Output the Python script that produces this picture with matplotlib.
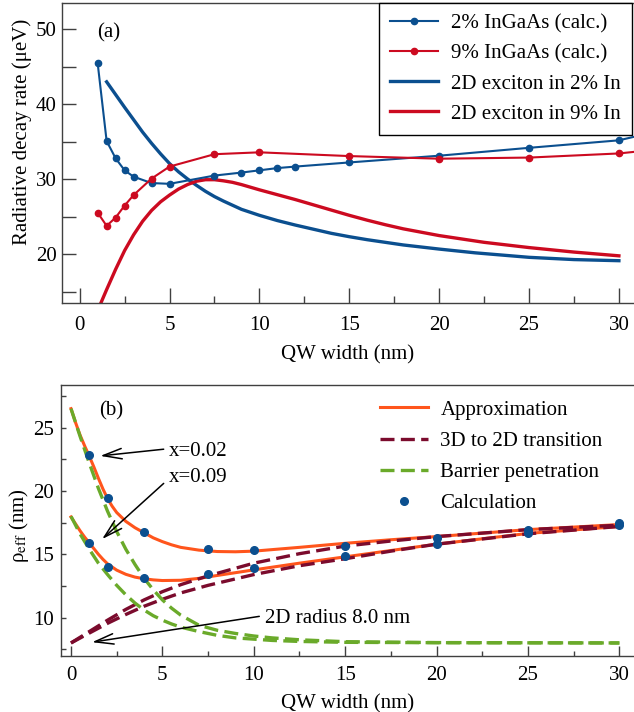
import matplotlib
matplotlib.use("Agg")
import matplotlib.pyplot as plt
from matplotlib.ticker import MultipleLocator, FuncFormatter

plt.rcParams["font.family"] = ["Liberation Serif", "DejaVu Serif"]
plt.rcParams["mathtext.fontset"] = "stix"
plt.rcParams["font.size"] = 15

BLUE = "#0b4f8f"
RED = "#cc0a20"
ORANGE = "#ff551c"
DARKRED = "#7b0b2d"
GREEN = "#6aaa2a"
SPINE = "#404040"

# ---- panel (a): radiative decay rate (ueV) vs QW width (nm)
w_calc_2 = [1, 1.5, 2, 2.5, 3, 4, 5, 7.5, 9, 10, 11, 12, 15, 20, 25, 30, 35]
rate_calc_2 = [45.5, 35.1, 32.8, 31.2, 30.35, 29.5, 29.4, 30.5, 30.9, 31.2, 31.5, 31.7,
               32.25, 33.15, 34.2, 35.2, 38.0]
w_calc_9 = [1, 1.5, 2, 2.5, 3, 4, 5, 7.5, 10, 15, 20, 25, 30, 35]
rate_calc_9 = [25.55, 23.8, 24.9, 26.5, 27.9, 30.1, 31.7, 33.35, 33.6, 33.1, 32.75, 32.9,
               33.45, 34.7]
w_exc_2 = [1.5, 2, 2.5, 3, 3.5, 4, 4.5, 5, 5.5, 6, 6.5, 7, 7.5, 8, 9, 10, 11, 12, 13, 14,
           15, 16, 17, 18, 20, 22, 25, 27.5, 30]
exc_2 = [43.0, 41.3, 39.6, 37.95, 36.3, 34.8, 33.4, 32.1, 31.0, 30.05, 29.2, 28.4, 27.7,
         27.1, 26.0, 25.2, 24.5, 23.9, 23.35, 22.8, 22.35, 21.95, 21.6, 21.25, 20.7, 20.2,
         19.6, 19.3, 19.15]
w_exc_9 = [1, 1.5, 2, 2.5, 3, 3.5, 4, 4.5, 5, 5.5, 6, 6.5, 7, 7.5, 8, 8.5, 9, 10, 11, 12,
           13, 14, 15, 16, 17, 18, 20, 22.5, 25, 27.5, 30]
exc_9 = [12.5, 15.3, 18.0, 20.5, 22.6, 24.4, 25.85, 27.0, 27.9, 28.7, 29.3, 29.75, 29.95,
         29.95, 29.8, 29.6, 29.3, 28.6, 27.95, 27.3, 26.6, 25.9, 25.2, 24.55, 23.95, 23.4,
         22.5, 21.6, 20.9, 20.3, 19.8]

# ---- panel (b): effective radius (nm) vs QW width (nm)
w_calc_b = [1, 2, 4, 7.5, 10, 15, 20, 25, 30]
rho_calc_002 = [22.85, 19.45, 16.75, 15.45, 15.33, 15.69, 16.28, 16.94, 17.45]
rho_calc_009 = [15.9, 13.97, 13.12, 13.42, 13.9, 14.85, 15.78, 16.7, 17.35]

w_fit_002 = [0, 0.25, 0.5, 0.75, 1, 1.25, 1.5, 1.75, 2, 2.25, 2.5, 3, 3.5, 4, 4.5, 5, 5.5,
             6, 7, 8, 9, 10, 12.5, 15, 17.5, 20, 25, 30]
approx_002 = [26.5, 25.4, 24.4, 23.55, 22.75, 21.9, 21.0, 20.15, 19.4, 18.8, 18.3, 17.6,
              17.1, 16.7, 16.3, 16.0, 15.75, 15.55, 15.33, 15.22, 15.2, 15.25, 15.55, 15.87,
              16.15, 16.4, 16.95, 17.35]
w_fit_009 = [0, 0.25, 0.5, 0.75, 1, 1.25, 1.5, 1.75, 2, 2.5, 3, 3.5, 4, 4.5, 5, 6, 7, 8, 9,
             10, 12.5, 15, 17.5, 20, 25, 30]
approx_009 = [17.95, 17.4, 16.85, 16.35, 15.9, 15.45, 15.0, 14.6, 14.25, 13.75, 13.42, 13.2,
              13.07, 12.98, 12.93, 12.95, 13.1, 13.33, 13.55, 13.77, 14.3, 14.8, 15.3, 15.8,
              16.65, 17.2]

w_tr = [0, 1, 2, 3, 4, 5, 6, 7.5, 10, 12.5, 15, 17.5, 20, 25, 30]
tr_002 = [8.0, 8.9, 9.8, 10.65, 11.4, 12.05, 12.6, 13.3, 14.3, 15.05, 15.65, 16.05, 16.4,
          16.95, 17.3]
tr_009 = [8.0, 8.78, 9.55, 10.25, 10.9, 11.45, 11.95, 12.55, 13.4, 14.1, 14.65, 15.25, 15.8,
          16.62, 17.2]

w_bp = [0, 0.5, 1, 1.5, 2, 2.5, 3, 3.5, 4, 4.5, 5, 5.5, 6, 7, 8, 9, 10, 11, 12.5, 15, 20, 30]
bp_002 = [26.5, 24.3, 22.2, 20.2, 18.4, 16.8, 15.4, 14.2, 13.1, 12.2, 11.4, 10.75, 10.2, 9.4,
          9.0, 8.75, 8.55, 8.4, 8.25, 8.1, 8.03, 8.0]
bp_009 = [18.0, 16.6, 15.4, 14.3, 13.4, 12.55, 11.8, 11.15, 10.6, 10.15, 9.8, 9.5, 9.25, 8.9,
          8.6, 8.4, 8.3, 8.2, 8.12, 8.05, 8.02, 8.0]

W, H = 634, 712
fig = plt.figure(figsize=(W / 100, H / 100), dpi=100)
ax1 = fig.add_axes([61.7 / W, 1 - 303.3 / H, (W - 61.7) / W, (303.3 - 2.7) / H])
ax2 = fig.add_axes([61.5 / W, 1 - 656 / H, (W - 61.5) / W, (656 - 385) / H])

for ax in (ax1, ax2):
    ax.spines["right"].set_visible(False)
    for s in ("left", "bottom", "top"):
        ax.spines[s].set_color(SPINE)
        ax.spines[s].set_linewidth(1.0)
    ax.tick_params(which="both", direction="in", top=False, right=False, color=SPINE,
                   labelsize=15, width=1.0)

# panel (a)
ax1.plot(w_exc_2, exc_2, color=BLUE, lw=2.4, label="2D exciton in 2% In", zorder=2)
ax1.plot(w_exc_9, exc_9, color=RED, lw=2.4, label="2D exciton in 9% In", zorder=2)
ax1.plot(w_calc_2, rate_calc_2, "-o", color=BLUE, lw=1.5, ms=4.5, label="2% InGaAs (calc.)",
         zorder=3)
ax1.plot(w_calc_9, rate_calc_9, "-o", color=RED, lw=1.5, ms=4.5, label="9% InGaAs (calc.)",
         zorder=3)
ax1.set_xlim(-1.0, 30.84)
ax1.set_ylim(13.47, 53.55)
ax1.xaxis.set_major_locator(MultipleLocator(5))
ax1.xaxis.set_minor_locator(MultipleLocator(2.5))
ax1.yaxis.set_major_locator(MultipleLocator(10))
ax1.yaxis.set_minor_locator(MultipleLocator(5))
ax1.tick_params(axis="x", which="major", length=10.5, pad=9)
ax1.tick_params(axis="x", which="minor", length=5)
ax1.tick_params(axis="y", which="both", length=10, pad=3.5)
ax1.set_xlabel("QW width (nm)", fontsize=15, labelpad=7.5)
ax1.set_ylabel("Radiative decay rate (μeV)", fontsize=15)
ax1.yaxis.set_label_coords(-0.052, 0.57)
ax1.text(0.95, 49.5, "(a)", fontsize=15, va="center", ha="left")

handles, labels = ax1.get_legend_handles_labels()
order = [2, 3, 0, 1]
leg1 = ax1.legend([handles[i] for i in order], [labels[i] for i in order],
                  loc="upper right", bbox_to_anchor=((632 - 61.7) / (W - 61.7), 1.0),
                  borderaxespad=0, frameon=True, fancybox=False, edgecolor="black",
                  framealpha=1, fontsize=15, handlelength=2.3, handletextpad=0.6,
                  labelspacing=0.5, borderpad=0.55)
leg1.get_frame().set_linewidth(1.0)

# panel (b)
ax2.plot(w_fit_002, approx_002, color=ORANGE, lw=2.2, label="Approximation", zorder=2)
ax2.plot(w_fit_009, approx_009, color=ORANGE, lw=2.2, zorder=2)
ax2.plot(w_tr, tr_002, color=DARKRED, lw=2.4, dashes=(4.2, 1.9),
         label="3D to 2D transition", zorder=3)
ax2.plot(w_tr, tr_009, color=DARKRED, lw=2.4, dashes=(4.2, 1.9), zorder=3)
ax2.plot(w_bp, bp_002, color=GREEN, lw=2.4, dashes=(4.2, 1.9),
         label="Barrier penetration", zorder=3)
ax2.plot(w_bp, bp_009, color=GREEN, lw=2.4, dashes=(4.2, 1.9), zorder=3)
ax2.plot(w_calc_b, rho_calc_002, "o", color=BLUE, ms=5.5, label="Calculation", zorder=4)
ax2.plot(w_calc_b, rho_calc_009, "o", color=BLUE, ms=5.5, zorder=4)
ax2.set_xlim(-0.52, 30.8)
ax2.set_ylim(6.97, 28.37)
ax2.xaxis.set_major_locator(MultipleLocator(5))
ax2.xaxis.set_minor_locator(MultipleLocator(2.5))
ax2.yaxis.set_major_locator(MultipleLocator(2.5))
ax2.yaxis.set_major_formatter(FuncFormatter(lambda v, p: f"{v:.0f}" if abs(v % 5) < 1e-6 else ""))
ax2.tick_params(axis="x", which="major", length=7, pad=7.5)
ax2.tick_params(axis="x", which="minor", length=3.6)
ax2.tick_params(axis="y", which="both", length=3.6, pad=5.5)
ax2.set_xlabel("QW width (nm)", fontsize=15, labelpad=6)
ax2.set_ylabel("ρ$_{\\mathrm{eff}}$ (nm)", fontsize=15)
ax2.yaxis.set_label_coords(-0.054, 0.48)
ax2.text(1.55, 26.3, "(b)", fontsize=15, va="center", ha="left")

leg2 = ax2.legend(loc="upper left", bbox_to_anchor=((380 - 61.5) / (W - 61.5), (656 - 400) / 271),
                  borderaxespad=0, borderpad=0, frameon=False, fontsize=15,
                  handlelength=2.3, handletextpad=0.6, labelspacing=0.56)

arrow = dict(arrowstyle="->,head_length=0.9,head_width=0.25", color="black", lw=1.1,
             shrinkA=0, shrinkB=0)
ax2.annotate("", xy=(1.6, 22.77), xytext=(5.07, 23.3), arrowprops=arrow)
ax2.text(5.34, 23.1, "x=0.02", fontsize=15, va="center", ha="left")
ax2.annotate("", xy=(1.7, 16.2), xytext=(5.07, 20.6), arrowprops=arrow)
ax2.text(5.34, 21.1, "x=0.09", fontsize=15, va="center", ha="left")
ax2.annotate("", xy=(1.15, 8.06), xytext=(10.3, 10.1), arrowprops=arrow)
ax2.text(10.61, 9.95, "2D radius 8.0 nm", fontsize=15, va="center", ha="left")

fig.savefig("out.png", dpi=100)
